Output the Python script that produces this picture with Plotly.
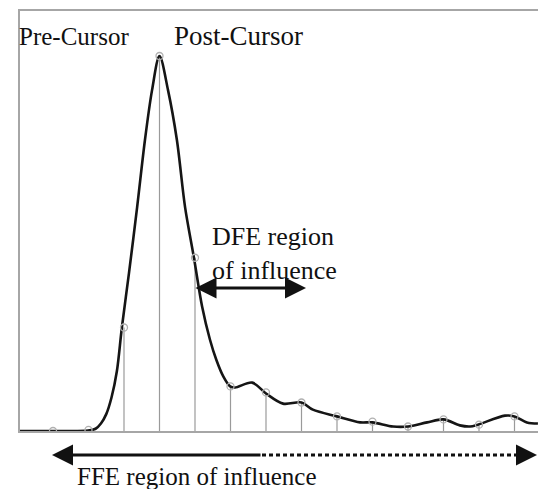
import plotly.graph_objects as go

# ---- data (unit intervals vs normalized amplitude) ----
sample_ui = [0, 1, 2, 3, 4, 5, 6, 7, 8, 9, 10, 11, 12, 13]
sample_amp = [0.0, 0.003, 0.276, 1.0, 0.462, 0.119, 0.103, 0.076, 0.039, 0.025, 0.012, 0.031, 0.017, 0.039]

wave_ui = [-0.93, 0.0, 0.99, 1.2, 1.35, 1.5, 1.65, 1.8, 1.94, 2.14, 2.37, 2.59, 2.79, 3.0,
           3.24, 3.49, 3.72, 3.97, 4.20, 4.42, 4.60, 4.80, 4.99, 5.13, 5.61, 6.0, 6.48, 7.0,
           7.32, 8.0, 8.65, 9.0, 9.58, 10.0, 10.54, 11.0, 11.46, 11.75, 11.97, 12.73, 13.0,
           13.35, 13.66]
wave_amp = [0.0, 0.0, 0.001, 0.006, 0.02, 0.045, 0.09, 0.16, 0.276, 0.421, 0.597, 0.776, 0.909, 1.0,
            0.909, 0.776, 0.597, 0.462, 0.332, 0.244, 0.19, 0.145, 0.119, 0.116, 0.129, 0.100, 0.073, 0.076,
            0.057, 0.039, 0.023, 0.023, 0.012, 0.012, 0.023, 0.031, 0.015, 0.012, 0.017, 0.041, 0.039,
            0.023, 0.020]

label_pre = "Pre-Cursor"
label_post = "Post-Cursor"
label_dfe = ["DFE region", "of influence"]
label_ffe = "FFE region of influence"

# ---- layout geometry (pixels) ----
W, H = 538, 489
L, R, T, B = 20, 0, 11, 58
PW, PH = W - L - R, H - T - B


def px(xp):
    return (xp - L) / PW


def py(yp):
    return (H - B - yp) / PH


FONT = "Liberation Serif, Times New Roman, serif"

stem_x, stem_y = [], []
for u, a in zip(sample_ui, sample_amp):
    stem_x += [u, u, None]
    stem_y += [0, a, None]

fig = go.Figure()
fig.add_trace(go.Scatter(x=stem_x, y=stem_y, mode="lines",
                         line=dict(color="#9a9a9a", width=1.2), hoverinfo="skip"))
fig.add_trace(go.Scatter(x=wave_ui, y=wave_amp, mode="lines",
                         line=dict(color="#151515", width=2.6, shape="spline", smoothing=0.9)))
fig.add_trace(go.Scatter(x=sample_ui, y=sample_amp, mode="markers",
                         marker=dict(symbol="circle-open", size=7, color="#b0b0b0",
                                     line=dict(width=1.3, color="#b0b0b0"))))

ann = []


def text(t, xl, yc, size=25):
    ann.append(dict(text=t, x=px(xl), y=py(yc), xref="paper", yref="paper",
                    xanchor="left", yanchor="middle", showarrow=False, align="left",
                    font=dict(family=FONT, size=size, color="#111111")))


text(label_pre, 17, 36)
text(label_post, 172, 36, 27)
text("<br>".join(label_dfe), 210, 254, 26)
text(label_ffe, 75, 476)

# DFE double arrow
ann.append(dict(text="", x=px(306), y=py(288), xref="paper", yref="paper",
                ax=194 - 306, ay=0, showarrow=True, arrowside="end+start",
                arrowhead=2, startarrowhead=2, arrowwidth=3, arrowsize=1.4,
                startarrowsize=1.4, arrowcolor="#111111", standoff=0, startstandoff=0))
# FFE solid part with left head
ann.append(dict(text="", x=px(52), y=py(455), xref="paper", yref="paper",
                ax=262 - 52, ay=0, showarrow=True, arrowhead=2, arrowwidth=3,
                arrowsize=1.4, arrowcolor="#111111", standoff=0))
# FFE right head
ann.append(dict(text="", x=px(538), y=py(455), xref="paper", yref="paper",
                ax=-18, ay=0, showarrow=True, arrowhead=2, arrowwidth=3,
                arrowsize=1.4, arrowcolor="#111111", standoff=0))

shapes = [dict(type="line", xref="paper", yref="paper", x0=px(262), x1=px(524),
               y0=py(455), y1=py(455), line=dict(color="#111111", width=3, dash="4px,3px"))]

fig.update_layout(
    width=W, height=H, margin=dict(l=L, r=R, t=T, b=B),
    paper_bgcolor="white", plot_bgcolor="white", showlegend=False,
    annotations=ann, shapes=shapes,
    xaxis=dict(range=[(20 - 53) / 35.5, (538 - 53) / 35.5], showgrid=False, zeroline=False,
               showticklabels=False, ticks="", showline=True, linecolor="#a6a6a6",
               linewidth=2, mirror=True, fixedrange=True),
    yaxis=dict(range=[0, (431 - 11) / 375.0], showgrid=False, zeroline=False,
               showticklabels=False, ticks="", showline=True, linecolor="#a6a6a6",
               linewidth=2, mirror=False, fixedrange=True),
)

fig.write_html("out.html")
